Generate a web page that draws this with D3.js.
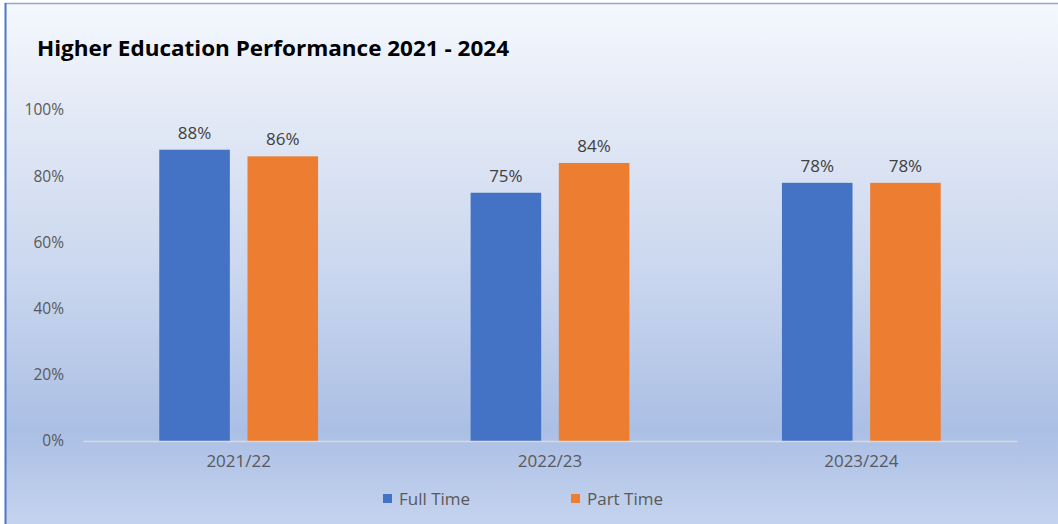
<!DOCTYPE html>
<html>
<head>
<meta charset="utf-8">
<script src="https://cdn.jsdelivr.net/npm/d3@7"></script>
<style>
  html, body { margin: 0; padding: 0; background: #fff; }
  svg { display: block; font-family: "Open Sans", "Liberation Sans", sans-serif; }
</style>
</head>
<body>
<div id="chart"></div>
<script>
// chart data
const years = ["2021/22", "2022/23", "2023/224"];
const fullTime = [88, 75, 78];
const partTime = [86, 84, 78];
const seriesNames = ["Full Time", "Part Time"];
const yTicks = [0, 20, 40, 60, 80, 100];

const W = 1058, H = 524;
const margin = {top: 110, right: 41, bottom: 83, left: 83},
    width = W - margin.left - margin.right,
    height = H - margin.top - margin.bottom;

const colors = ["#4472c4", "#ed7d31"];

const svg = d3.select("#chart")
  .append("svg")
    .attr("width", W)
    .attr("height", H);

// background gradient
const grad = svg.append("defs").append("linearGradient")
    .attr("id", "bg")
    .attr("x1", 0).attr("y1", 0).attr("x2", 0).attr("y2", 1);
grad.append("stop").attr("offset", "0").attr("stop-color", "#f5f8fe");
grad.append("stop").attr("offset", "0.2").attr("stop-color", "#e4eaf6");
grad.append("stop").attr("offset", "0.5").attr("stop-color", "#ccd8ef");
grad.append("stop").attr("offset", "0.82").attr("stop-color", "#abbfe5");
grad.append("stop").attr("offset", "1").attr("stop-color", "#c5d3ee");

svg.append("rect")
    .attr("x", 5).attr("y", 3)
    .attr("width", W - 5).attr("height", H - 3)
    .attr("fill", "url(#bg)");

// frame lines (left and top)
svg.append("line")
    .attr("x1", 5).attr("x2", W).attr("y1", 3.5).attr("y2", 3.5)
    .attr("stroke", "#8ea8d6").attr("stroke-width", 1.5);
svg.append("line")
    .attr("x1", 5.5).attr("x2", 5.5).attr("y1", 3).attr("y2", H)
    .attr("stroke", "#4a78c8").attr("stroke-width", 2);

// title
svg.append("text")
    .attr("x", 37).attr("y", 56)
    .attr("font-size", 21.5)
    .attr("font-weight", "bold")
    .attr("fill", "#000")
    .attr("textLength", 472)
    .attr("lengthAdjust", "spacingAndGlyphs")
    .text("Higher Education Performance 2021 - 2024");

const g = svg.append("g")
    .attr("transform", `translate(${margin.left},${margin.top})`);

const x = d3.scaleBand()
    .domain(years)
    .range([0, width]);

const xSub = d3.scaleBand()
    .domain(seriesNames)
    .range([x.bandwidth() * 0.245, x.bandwidth() * 0.755])
    .paddingInner(0.2);

const y = d3.scaleLinear()
    .domain([0, 100])
    .range([height, 0]);

// y axis labels
const yAxis = g.append("g")
    .call(d3.axisLeft(y).tickValues(yTicks).tickFormat(d => d + "%").tickSize(0).tickPadding(19));
yAxis.select(".domain").remove();
yAxis.selectAll("text")
    .attr("font-size", 15.5)
    .attr("fill", "#595959")
    .attr("font-family", "Open Sans, sans-serif");

// bars
const rows = years.map((yr, i) => ({year: yr, values: [fullTime[i], partTime[i]]}));

const groups = g.append("g").selectAll("g")
  .data(rows)
  .join("g")
    .attr("transform", d => `translate(${x(d.year)},0)`);

groups.selectAll("rect")
  .data(d => d.values.map((v, k) => ({key: seriesNames[k], value: v, k: k})))
  .join("rect")
    .attr("x", d => xSub(d.key))
    .attr("y", d => y(d.value))
    .attr("width", xSub.bandwidth())
    .attr("height", d => height - y(d.value))
    .attr("fill", d => colors[d.k]);

groups.selectAll("text.val")
  .data(d => d.values.map((v, k) => ({key: seriesNames[k], value: v})))
  .join("text")
    .attr("class", "val")
    .attr("x", d => xSub(d.key) + xSub.bandwidth() / 2)
    .attr("y", d => y(d.value) - 11)
    .attr("text-anchor", "middle")
    .attr("font-size", 17)
    .attr("fill", "#404040")
    .text(d => d.value + "%");

// x axis
const xAxis = g.append("g")
    .attr("transform", `translate(0,${height})`)
    .call(d3.axisBottom(x).tickSize(0).tickPadding(14));
xAxis.select(".domain").attr("stroke", "#d9d9d9").attr("stroke-width", 1.5);
xAxis.selectAll("text")
    .attr("font-size", 17)
    .attr("fill", "#595959")
    .attr("font-family", "Open Sans, sans-serif");

// legend
const legendX = [383, 571];
const legend = svg.append("g").selectAll("g")
  .data(seriesNames)
  .join("g")
    .attr("transform", (d, i) => `translate(${legendX[i]},494)`);
legend.append("rect")
    .attr("width", 9).attr("height", 9)
    .attr("fill", (d, i) => colors[i]);
legend.append("text")
    .attr("x", 16).attr("y", 10.5)
    .attr("font-size", 17)
    .attr("fill", "#595959")
    .text(d => d);
</script>
</body>
</html>
